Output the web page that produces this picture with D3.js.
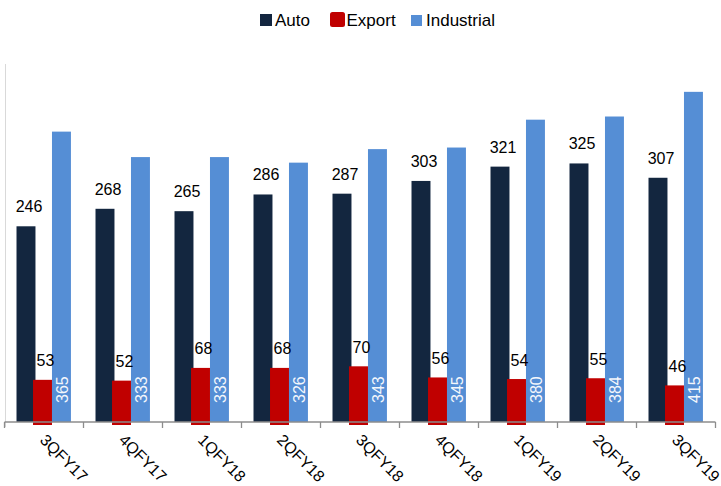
<!DOCTYPE html>
<html>
<head>
<meta charset="utf-8">
<script src="https://cdn.jsdelivr.net/npm/d3@7"></script>
<style>
  html, body { margin: 0; padding: 0; background: #fff; }
  svg { display: block; font-family: "Liberation Sans", Arial, sans-serif; }
</style>
</head>
<body>
<svg id="chart" width="721" height="486"></svg>
<script>
// ---- data ----
const categories = ["3QFY17", "4QFY17", "1QFY18", "2QFY18", "3QFY18", "4QFY18", "1QFY19", "2QFY19", "3QFY19"];
const autoValues = [246, 268, 265, 286, 287, 303, 321, 325, 307];
const exportValues = [53, 52, 68, 68, 70, 56, 54, 55, 46];
const industrialValues = [365, 333, 333, 326, 343, 345, 380, 384, 415];
const seriesNames = ["Auto", "Export", "Industrial"];

// ---- styles / layout ----
const colors = { Auto: "#13263F", Export: "#C00000", Industrial: "#558ED5" };
const svg = d3.select("#chart");

const x = d3.scaleBand().domain(categories).range([4.5, 715.5]).padding(0);
const y = d3.scaleLinear().domain([0, 450]).range([422, 64]);
const bw = x.bandwidth();
const barW = bw * 0.24;
const offsets = { Auto: bw * 0.152, Export: bw * 0.361, Industrial: bw * 0.601 };

// faint left axis line
svg.append("line")
  .attr("x1", 5.5).attr("x2", 5.5)
  .attr("y1", y.range()[1]).attr("y2", y(0) + 5)
  .attr("stroke", "#d9d9d9").attr("stroke-width", 1);

const data = categories.map((c, i) => ({
  cat: c, Auto: autoValues[i], Export: exportValues[i], Industrial: industrialValues[i]
}));

// Auto bars
svg.append("g").selectAll("rect").data(data).join("rect")
  .attr("x", d => x(d.cat) + offsets.Auto)
  .attr("y", d => y(d.Auto))
  .attr("width", barW)
  .attr("height", d => y(0) - y(d.Auto))
  .attr("fill", colors.Auto);

// Export bars (slightly extend below the axis as in reference)
svg.append("g").selectAll("rect").data(data).join("rect")
  .attr("x", d => x(d.cat) + offsets.Export)
  .attr("y", d => y(d.Export))
  .attr("width", barW)
  .attr("height", d => y(0) - y(d.Export) + 3)
  .attr("fill", colors.Export);

// Industrial bars
svg.append("g").selectAll("rect").data(data).join("rect")
  .attr("x", d => x(d.cat) + offsets.Industrial)
  .attr("y", d => y(d.Industrial))
  .attr("width", barW)
  .attr("height", d => y(0) - y(d.Industrial))
  .attr("fill", colors.Industrial);

// x axis
const xAxis = d3.axisBottom(x).tickSize(0).tickFormat("");
const axisG = svg.append("g").attr("transform", `translate(0,${y(0)})`).call(xAxis);
axisG.select(".domain").remove();
svg.append("line")
  .attr("x1", x.range()[0]).attr("x2", x.range()[1])
  .attr("y1", y(0)).attr("y2", y(0))
  .attr("stroke", "#8c8c8c").attr("stroke-width", 1.6);
const bounds = categories.map(c => x(c)).concat([x.range()[1]]);
svg.append("g").selectAll("line").data(bounds).join("line")
  .attr("x1", d => d).attr("x2", d => d)
  .attr("y1", y(0)).attr("y2", y(0) + 6)
  .attr("stroke", "#8c8c8c").attr("stroke-width", 1.3);

// category labels rotated 45deg
svg.append("g").selectAll("text").data(categories).join("text")
  .attr("transform", d => `translate(${x(d) + bw / 2 - 5},${y(0) + 19}) rotate(45)`)
  .attr("text-anchor", "start")
  .attr("font-size", 16)
  .attr("fill", "#000")
  .text(d => d);

// Auto labels
svg.append("g").selectAll("text").data(data).join("text")
  .attr("x", d => x(d.cat) + offsets.Auto + barW / 2 + 3)
  .attr("y", d => y(d.Auto) - 14)
  .attr("text-anchor", "middle")
  .attr("font-size", 16)
  .attr("fill", "#000")
  .text(d => d.Auto);

// Export labels
svg.append("g").selectAll("text").data(data).join("text")
  .attr("x", d => x(d.cat) + offsets.Export + barW / 2 + 3)
  .attr("y", d => y(d.Export) - 13.5)
  .attr("text-anchor", "middle")
  .attr("font-size", 16)
  .attr("fill", "#000")
  .text(d => d.Export);

// Industrial labels, rotated inside bar bottom
svg.append("g").selectAll("text").data(data).join("text")
  .attr("transform", d => `translate(${x(d.cat) + offsets.Industrial + barW / 2 + 0.5},${y(0) - 19}) rotate(-90)`)
  .attr("text-anchor", "start")
  .attr("dy", "0.36em")
  .attr("font-size", 16)
  .attr("fill", "#f4f7fc")
  .text(d => d.Industrial);

// legend
const legendItems = [
  { name: seriesNames[0], sx: 260, sy: 14, s: 12, r: 0, tx: 275 },
  { name: seriesNames[1], sx: 330, sy: 12, s: 15, r: 2.5, tx: 346.5 },
  { name: seriesNames[2], sx: 411, sy: 15, s: 11, r: 0, tx: 426 }
];
const lg = svg.append("g");
lg.selectAll("rect").data(legendItems).join("rect")
  .attr("x", d => d.sx).attr("y", d => d.sy)
  .attr("width", d => d.s).attr("height", d => d.s)
  .attr("rx", d => d.r)
  .attr("fill", d => colors[d.name]);
lg.selectAll("text").data(legendItems).join("text")
  .attr("x", d => d.tx).attr("y", 25.7)
  .attr("font-size", 17)
  .attr("fill", "#000")
  .text(d => d.name);
</script>
</body>
</html>
